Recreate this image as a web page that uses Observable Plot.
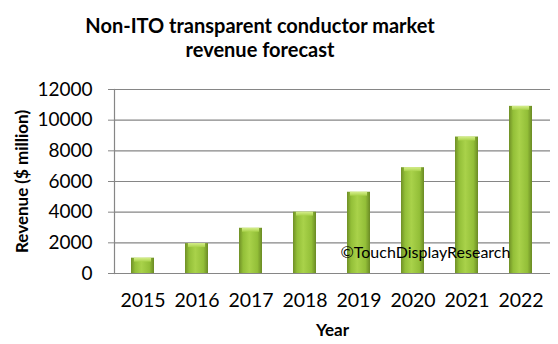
<!DOCTYPE html>
<html>
<head>
<meta charset="utf-8">
<script src="https://cdn.jsdelivr.net/npm/d3@7"></script>
<script src="https://cdn.jsdelivr.net/npm/@observablehq/plot@0.6"></script>
<style>
  html, body { margin: 0; padding: 0; background: #fff; }
  #wrap { width: 558px; height: 344px; position: relative; font-family: Lato, "Open Sans", sans-serif; }
  #title { position: absolute; left: 0; top: 13px; width: 520px; text-align: center; font-weight: bold; font-size: 20px; line-height: 24px; color: #000; }
  #chart { position: absolute; left: 0; top: 72px; }
</style>
</head>
<body>
<div id="wrap">
  <div id="title">Non-ITO transparent conductor market<br>revenue forecast</div>
  <div id="chart"></div>
</div>
<script>
const years = ["2015", "2016", "2017", "2018", "2019", "2020", "2021", "2022"];
const revenue = [1000, 1950, 2950, 4000, 5300, 6900, 8900, 10900];
const yTicks = [0, 2000, 4000, 6000, 8000, 10000, 12000];
const yLabel = "Revenue ($ million)";
const xLabel = "Year";
const watermark = "©TouchDisplayResearch";

const data = years.map((y, i) => ({year: y, value: revenue[i]}));

const defs = () => {
  const d = d3.create("svg:defs");
  const g = d.append("linearGradient").attr("id", "barGrad").attr("x1", "0").attr("x2", "1").attr("y1", "0").attr("y2", "0");
  g.append("stop").attr("offset", "0%").attr("stop-color", "#6f8f26");
  g.append("stop").attr("offset", "18%").attr("stop-color", "#93bf38");
  g.append("stop").attr("offset", "45%").attr("stop-color", "#a9d24a");
  g.append("stop").attr("offset", "80%").attr("stop-color", "#93bf38");
  g.append("stop").attr("offset", "100%").attr("stop-color", "#6a8a24");
  const c = d.append("linearGradient").attr("id", "capGrad").attr("x1", "0").attr("x2", "0").attr("y1", "0").attr("y2", "1");
  c.append("stop").attr("offset", "0%").attr("stop-color", "#d6ee8c");
  c.append("stop").attr("offset", "100%").attr("stop-color", "#a9d24a");
  return d.node();
};

const plot = Plot.plot({
  width: 558,
  height: 272,
  marginTop: 17,
  marginBottom: 71,
  marginLeft: 114,
  marginRight: 8,
  style: {fontFamily: "Lato, 'Open Sans', sans-serif", fontSize: "19px", color: "#000", background: "#fff"},
  x: {domain: years, paddingInner: 0.57, paddingOuter: 0.285, label: null},
  y: {domain: [0, 12000], label: null},
  marks: [
    defs,
    Plot.gridY(yTicks, {stroke: "#868686", strokeOpacity: 1, strokeWidth: 1.2}),
    Plot.axisY({ticks: yTicks, tickSize: 6, tickPadding: 16, tickFormat: d3.format("d"), stroke: "#868686", label: null, fontSize: 19}),
    Plot.frame({anchor: "left", stroke: "#868686", strokeWidth: 1.2}),
    Plot.axisX({tickSize: 0, tickPadding: 20, label: null, fontSize: 19.5}),
    Plot.barY(data, {x: "year", y: "value", fill: "url(#barGrad)"}),
    Plot.barY(data, {x: "year", y1: d => d.value - 260, y2: "value", fill: "url(#capGrad)", insetLeft: 3, insetRight: 3}),
    Plot.text([yLabel], {frameAnchor: "left", textAnchor: "middle", rotate: -90, dx: -92, fontWeight: "bold", fontSize: 17}),
    Plot.text([xLabel], {frameAnchor: "bottom", dy: 62, fontWeight: "bold", fontSize: 17}),
    Plot.text([watermark], {frameAnchor: "bottom-left", dx: 226, dy: -16, textAnchor: "start", fontSize: 16})
  ]
});
document.getElementById("chart").appendChild(plot);
</script>
</body>
</html>
